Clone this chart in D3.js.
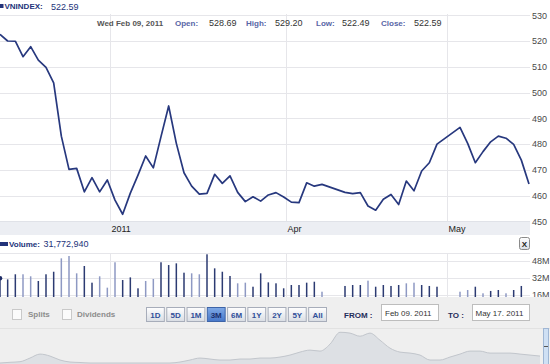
<!DOCTYPE html>
<html><head><meta charset="utf-8">
<script src="https://cdn.jsdelivr.net/npm/d3@7"></script>
<style>
html,body{margin:0;padding:0;background:#fff;overflow:hidden;}
svg{display:block;font-family:"Liberation Sans",Arial,sans-serif;}
</style></head>
<body><svg id="c" width="550" height="364"></svg>
<script>
// ---------- DATA ----------
const symbol = "VNINDEX";
const lastValue = "522.59";
const quoteDate = "Wed Feb 09, 2011";
const quoteLabels = ["Open:", "High:", "Low:", "Close:"];
const quoteValues = ["528.69", "529.20", "522.49", "522.59"];
const volumeLabel = "31,772,940";

const dates = [
 "2011-02-09","2011-02-10","2011-02-11","2011-02-14","2011-02-15","2011-02-16","2011-02-17","2011-02-18",
 "2011-02-21","2011-02-22","2011-02-23","2011-02-24","2011-02-25","2011-02-28",
 "2011-03-01","2011-03-02","2011-03-03","2011-03-04","2011-03-07","2011-03-08","2011-03-09","2011-03-10",
 "2011-03-11","2011-03-14","2011-03-15","2011-03-16","2011-03-17","2011-03-18","2011-03-21","2011-03-22",
 "2011-03-23","2011-03-24","2011-03-25","2011-03-28","2011-03-29","2011-03-30","2011-03-31",
 "2011-04-01","2011-04-04","2011-04-05","2011-04-06","2011-04-07","2011-04-08",
 "2011-04-13","2011-04-14","2011-04-15","2011-04-18","2011-04-19","2011-04-20","2011-04-21","2011-04-22",
 "2011-04-25","2011-04-26","2011-04-27","2011-04-28","2011-04-29",
 "2011-05-04","2011-05-05","2011-05-06","2011-05-09","2011-05-10","2011-05-11","2011-05-12","2011-05-13",
 "2011-05-16","2011-05-17"
];
const closes = [
 522.59,520.0,519.9,513.9,517.8,512.6,509.8,503.8,
 483.1,470.2,470.6,461.5,467.0,461.5,
 466.1,458.3,452.8,461.0,468.0,475.4,470.8,482.9,
 494.8,480.3,468.9,463.7,460.6,460.9,468.3,464.8,
 467.7,461.3,457.7,459.6,457.9,460.3,461.2,
 459.5,457.5,457.3,465.0,463.7,464.4,
 461.3,460.8,461.2,456.0,454.4,458.6,460.5,456.6,
 465.7,461.9,469.6,472.8,480.0,
 486.5,480.3,472.8,477.1,480.9,483.1,482.3,479.9,
 473.8,464.5
];
// volume in millions of shares
const volumes = [
 31.77,30.7,35.5,35.5,33.6,29.2,35.5,37.9,
 50.5,52.7,36.4,43.3,27.6,33.6,
 22.9,46.8,30.1,32.6,22.3,29.2,31.1,46.8,
 44.2,45.8,37.0,36.4,35.5,54.3,41.1,37.9,
 33.9,27.0,27.6,23.8,36.4,27.9,27.0,
 22.3,25.4,25.4,27.6,28.5,19.1,
 24.5,25.4,25.4,29.5,23.8,25.4,24.5,25.4,
 27.0,27.6,25.4,24.5,23.8,
 19.1,20.7,23.8,17.6,19.8,20.7,17.6,20.7,
 24.5,null
];
// 1 = lighter bar, 0 = dark bar
const volLight = [
 0,0,0,1,1,0,0,0,
 1,1,1,0,0,1,
 1,1,0,0,0,1,1,0,
 0,0,0,1,1,0,0,0,
 0,1,1,0,0,0,0,
 0,0,0,0,0,1,
 0,0,0,1,0,0,0,0,
 1,1,0,0,0,
 1,1,0,1,0,0,1,0,
 0,0
];
const priceTicks = [450,460,470,480,490,500,510,520,530];
const volTicks = [16,32,48];
const volTickLabels = ["16M","32M","48M"];
const monthTickDates = ["2011-03-01","2011-04-01","2011-05-02"];
const monthTickLabels = ["2011","Apr","May"];
const rangeButtons = ["1D","5D","1M","3M","6M","1Y","2Y","5Y","All"];
const activeRange = "3M";
const checkLabels = ["Splits","Dividends"];
const fromDate = "Feb 09. 2011";
const toDate = "May 17. 2011";
// long-history navigator (approx index level)
const navValues = [
 35,60,81,210,350,280,140,70,53,35,35,35,35,35,35,35,35,35,70,140,
 210,175,140,140,175,175,210,210,245,315,420,490,455,700,1120,1090,980,1090,840,560,
 420,385,315,140,140,245,350,455,455,385,385,385,350,315,280
];

// ---------- CHART ----------
const svg = d3.select("#c");
const parse = d3.utcParse("%Y-%m-%d");
const start = parse(dates[0]);
const slot = s => { const d = parse(s); return d3.utcDays(start, d).filter(t => t.getUTCDay() % 6 !== 0).length; };
const slots = dates.map(slot);
const endSlot = slots[slots.length - 1];

const plotR = 530;
const x = d3.scaleLinear().domain([0, endSlot]).range([0, 529]);
const y = d3.scaleLinear().domain([450, 530]).range([221.5, 15.2]);
const yv = d3.scaleLinear().domain([0, 16]).range([312, 295]);

const grid = "#e6e6ea";
const navy = "#23337a";

// price gridlines
svg.append("g").selectAll("line").data(priceTicks.filter(t => t > 450)).join("line")
  .attr("x1", 0).attr("x2", plotR).attr("y1", d => Math.round(y(d)) + 0.5).attr("y2", d => Math.round(y(d)) + 0.5)
  .attr("stroke", grid);
const monthX = monthTickDates.map(s => Math.round(x(slot(s) + 0.3)) + 0.5);
svg.append("g").selectAll("line").data(monthX).join("line")
  .attr("x1", d => d).attr("x2", d => d).attr("y1", 14).attr("y2", 221).attr("stroke", grid);

// price axis labels
svg.append("g").selectAll("text").data(priceTicks).join("text")
  .attr("x", 532).attr("y", d => y(d) + 3.3).attr("font-size", 9).attr("fill", "#4a4a4a").text(d => d);

// header
svg.append("rect").attr("x", 0).attr("y", 4).attr("width", 3.5).attr("height", 4).attr("fill", navy);
svg.append("text").attr("x", 4.5).attr("y", 9).attr("font-size", 8).attr("font-weight", "bold").attr("fill", navy).text(symbol + ":");
svg.append("text").attr("x", 51).attr("y", 9.5).attr("font-size", 9).attr("fill", navy).text(lastValue);
svg.append("text").attr("x", 97).attr("y", 26).attr("font-size", 8).attr("font-weight", "bold").attr("fill", "#555").text(quoteDate);
const labX = [175, 246, 316, 381], valX = [209, 275, 342, 414];
quoteLabels.forEach((l, i) => {
  svg.append("text").attr("x", labX[i]).attr("y", 26).attr("font-size", 8).attr("font-weight", "bold").attr("fill", "#5866a6").text(l);
  svg.append("text").attr("x", valX[i]).attr("y", 26.3).attr("font-size", 9).attr("fill", "#333").text(quoteValues[i]);
});

// x axis band
svg.append("rect").attr("x", 0).attr("y", 221).attr("width", plotR).attr("height", 14).attr("fill", "#eceef3");
svg.append("line").attr("x1", 0).attr("x2", plotR).attr("y1", 221.5).attr("y2", 221.5).attr("stroke", "#e0e2e8");
svg.append("g").selectAll("text").data(monthTickLabels).join("text")
  .attr("x", (d, i) => monthX[i] + 1).attr("y", 232).attr("font-size", 9).attr("fill", "#222").text(d => d);

// price line
const pts = closes.map((v, i) => [x(slots[i]), y(v)]);
svg.append("path").attr("d", d3.line()(pts)).attr("fill", "none").attr("stroke", "#27387e")
  .attr("stroke-width", 1.7).attr("stroke-linejoin", "round");

// volume header
svg.append("rect").attr("x", 0).attr("y", 242).attr("width", 8).attr("height", 4).attr("fill", navy);
svg.append("text").attr("x", 9).attr("y", 247).attr("font-size", 8).attr("font-weight", "bold").attr("fill", navy).text("Volume:");
svg.append("text").attr("x", 43.5).attr("y", 247.3).attr("font-size", 9).attr("fill", navy).text(volumeLabel);
// close button
const xb = svg.append("g");
const gdef = svg.append("defs");
const bg = gdef.append("linearGradient").attr("id", "btn").attr("x1", 0).attr("x2", 0).attr("y1", 0).attr("y2", 1);
bg.append("stop").attr("offset", 0).attr("stop-color", "#ffffff");
bg.append("stop").attr("offset", 1).attr("stop-color", "#d9dde4");
const ab = gdef.append("linearGradient").attr("id", "btnA").attr("x1", 0).attr("x2", 0).attr("y1", 0).attr("y2", 1);
ab.append("stop").attr("offset", 0).attr("stop-color", "#7fa9e6");
ab.append("stop").attr("offset", 1).attr("stop-color", "#4677c9");
xb.append("rect").attr("x", 519.5).attr("y", 237.5).attr("width", 10).attr("height", 12).attr("rx", 2)
  .attr("fill", "url(#btn)").attr("stroke", "#8a8a8a");
xb.append("text").attr("x", 524.5).attr("y", 247).attr("text-anchor", "middle").attr("font-size", 8)
  .attr("font-weight", "bold").attr("fill", "#222").text("X");

// volume panel grid
svg.append("line").attr("x1", 0).attr("x2", plotR).attr("y1", 253.5).attr("y2", 253.5).attr("stroke", grid);
svg.append("g").selectAll("line").data(volTicks).join("line")
  .attr("x1", 0).attr("x2", plotR).attr("y1", d => Math.round(yv(d)) + 0.5).attr("y2", d => Math.round(yv(d)) + 0.5).attr("stroke", grid);
svg.append("g").selectAll("line").data(monthX).join("line")
  .attr("x1", d => d).attr("x2", d => d).attr("y1", 253).attr("y2", 297).attr("stroke", grid);
svg.append("g").selectAll("text").data(volTicks).join("text")
  .attr("x", 532).attr("y", d => yv(d) + 2.5).attr("font-size", 9).attr("fill", "#4a4a4a").text((d, i) => volTickLabels[i]);
// volume bars
const vb = volumes.map((v, i) => ({v, s: slots[i], light: volLight[i]})).filter(d => d.v != null);
svg.append("g").selectAll("rect").data(vb).join("rect")
  .attr("x", d => x(d.s) - 0.75).attr("width", 1.5)
  .attr("y", d => yv(d.v)).attr("height", d => 297 - yv(d.v))
  .attr("fill", d => d.light ? "#8e99c3" : "#2c3b72");
svg.append("circle").attr("cx", x(slots[0])).attr("cy", yv(volumes[0])).attr("r", 2.3).attr("fill", "#1e2c66");

// control panel
svg.append("rect").attr("x", 0).attr("y", 297).attr("width", 550).attr("height", 67).attr("fill", "#efefef");
svg.append("line").attr("x1", 0).attr("x2", 550).attr("y1", 328.5).attr("y2", 328.5).attr("stroke", "#e2e2e2");
// checkboxes
const cbX = [12, 62], cbT = [28, 77];
checkLabels.forEach((l, i) => {
  svg.append("rect").attr("x", cbX[i] + 0.5).attr("y", 309.5).attr("width", 9).attr("height", 10)
    .attr("fill", "#fbfbfb").attr("stroke", "#c9c9c9");
  svg.append("text").attr("x", cbT[i]).attr("y", 317).attr("font-size", 8).attr("font-weight", "bold")
    .attr("fill", "#8c8c8c").text(l);
});
// range buttons
const bx = d3.scaleBand().domain(rangeButtons).range([146, 326]).paddingInner(0.12);
const bgp = svg.append("g").selectAll("g").data(rangeButtons).join("g");
bgp.append("rect").attr("x", d => bx(d) + 0.5).attr("y", 307.5).attr("width", bx.bandwidth()).attr("height", 14)
  .attr("fill", d => d === activeRange ? "url(#btnA)" : "url(#btn)")
  .attr("stroke", d => d === activeRange ? "#3d64a8" : "#a7adba");
bgp.append("text").attr("x", d => bx(d) + bx.bandwidth() / 2 + 0.5).attr("y", 317.5).attr("text-anchor", "middle")
  .attr("font-size", 8).attr("font-weight", "bold").attr("fill", d => d === activeRange ? "#1b2f6e" : "#2f4f9a").text(d => d);
// from / to
svg.append("text").attr("x", 344).attr("y", 318).attr("font-size", 8).attr("font-weight", "bold").attr("fill", "#1f2d5a").text("FROM :");
svg.append("rect").attr("x", 381.5).attr("y", 304.5).attr("width", 57).attr("height", 16).attr("fill", "#fff").attr("stroke", "#bdbdbd");
svg.append("text").attr("x", 385).attr("y", 316).attr("font-size", 8).attr("fill", "#333").text(fromDate);
svg.append("text").attr("x", 448).attr("y", 318).attr("font-size", 8).attr("font-weight", "bold").attr("fill", "#1f2d5a").text("TO :");
svg.append("rect").attr("x", 472.5).attr("y", 304.5).attr("width", 57).attr("height", 16).attr("fill", "#fff").attr("stroke", "#bdbdbd");
svg.append("text").attr("x", 475.5).attr("y", 316).attr("font-size", 8).attr("fill", "#333").text(toDate);

// navigator
const nx = d3.scaleLinear().domain([0, navValues.length - 1]).range([0, 540]);
const ny = d3.scaleLinear().domain([0, 1200]).range([364, 330]);
svg.append("path").attr("d", d3.area().x((d, i) => nx(i)).y0(364).y1(d => ny(d)).curve(d3.curveMonotoneX)(navValues))
  .attr("fill", "#dde0e4");
svg.append("path").attr("d", d3.line().x((d, i) => nx(i)).y(d => ny(d)).curve(d3.curveMonotoneX)(navValues))
  .attr("fill", "none").attr("stroke", "#c2c6cc").attr("stroke-width", 1);
svg.append("rect").attr("x", 543.5).attr("y", 328.5).attr("width", 5).attr("height", 36).attr("fill", "#cfe0f4").attr("stroke", "#9fb6d4");
svg.append("line").attr("x1", 544).attr("x2", 548).attr("y1", 346.5).attr("y2", 346.5).attr("stroke", "#555");
</script></body></html>
